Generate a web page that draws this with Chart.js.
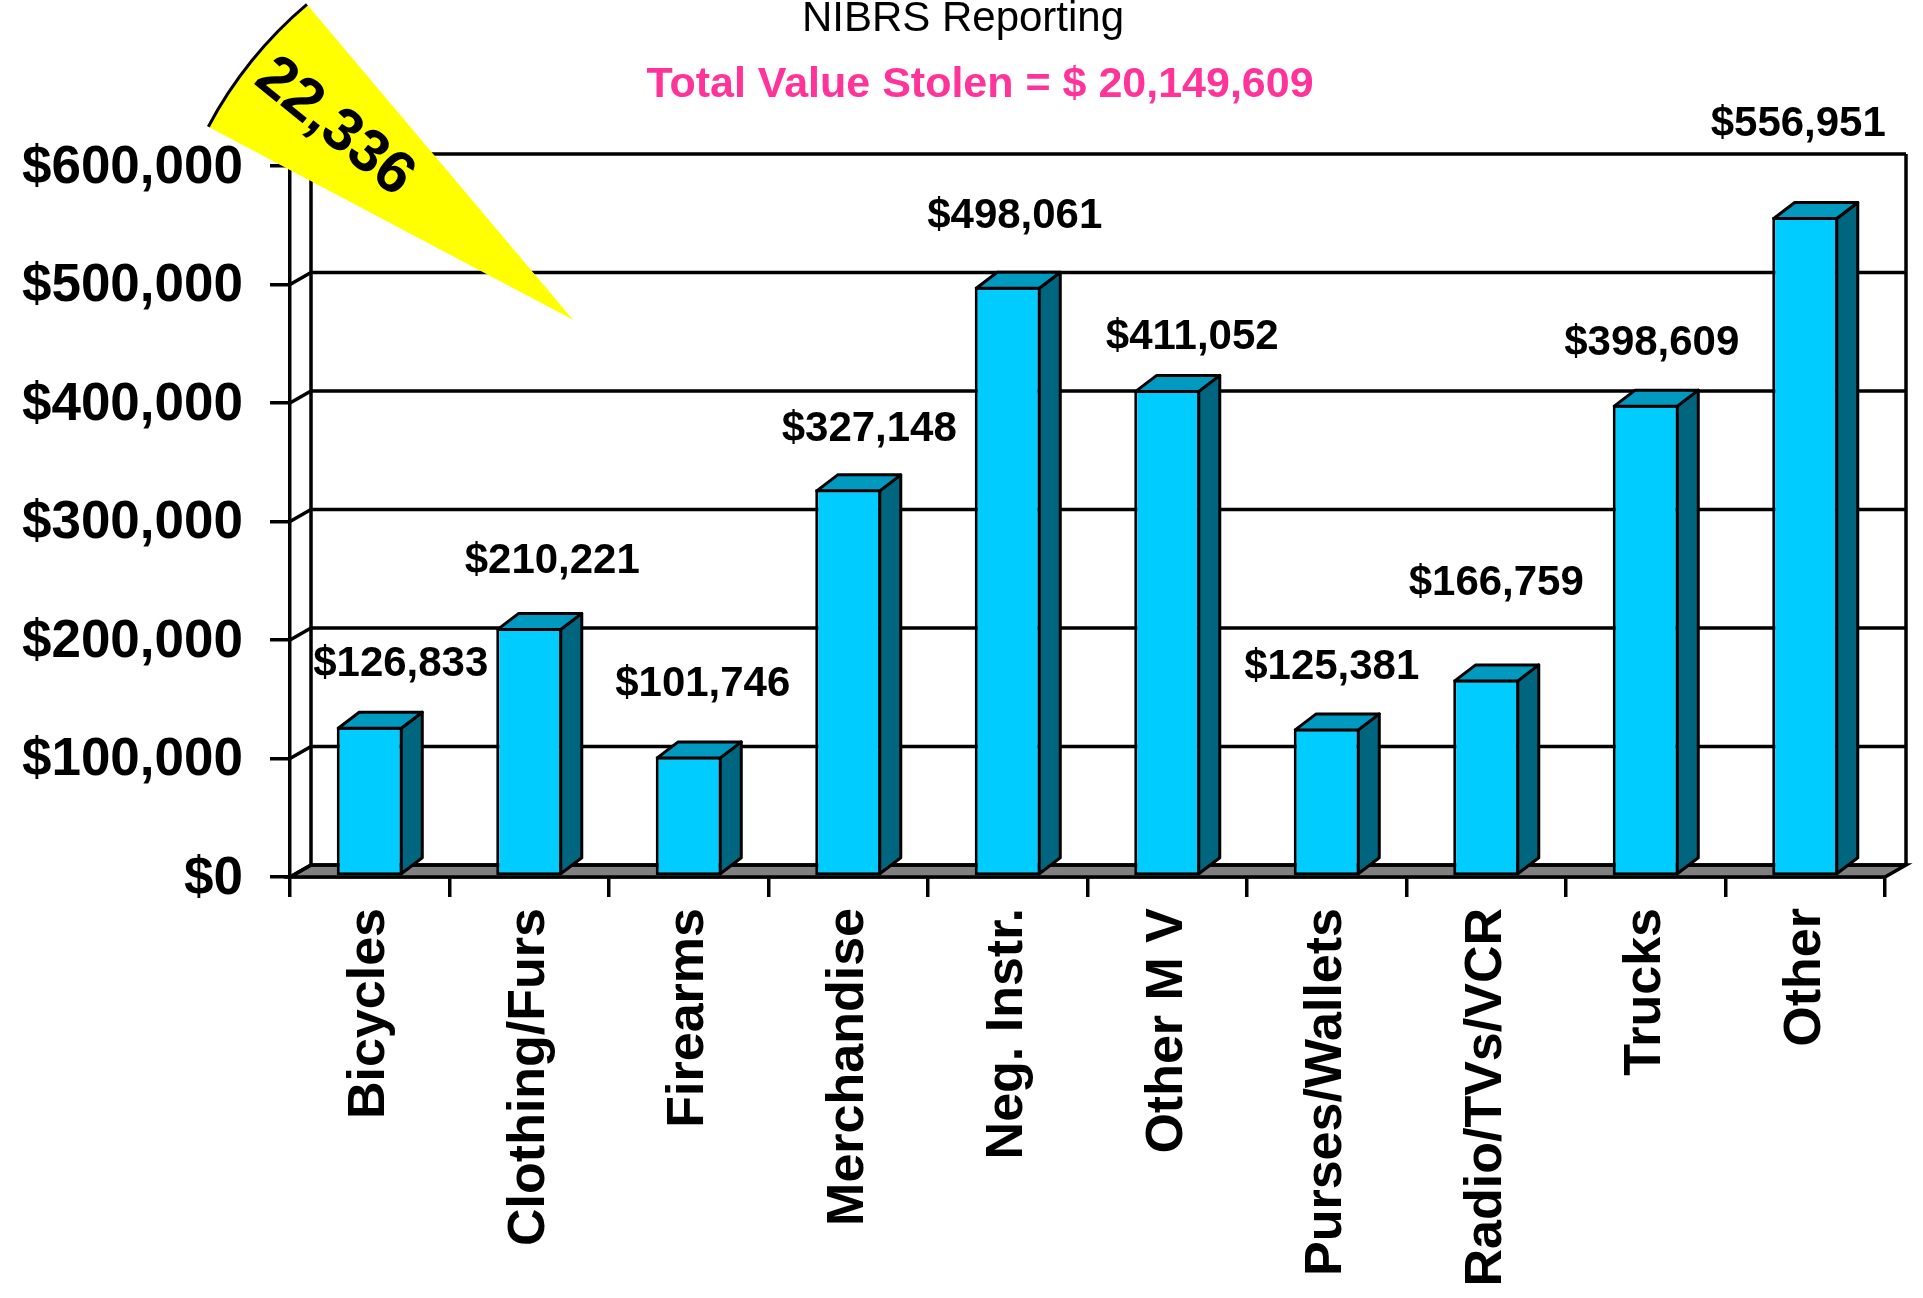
<!DOCTYPE html>
<html>
<head>
<meta charset="utf-8">
<title>NIBRS Reporting - Total Value Stolen</title>
<script src="https://cdn.jsdelivr.net/npm/chart.js@4.4.1/dist/chart.umd.min.js"></script>
<style>
  html, body { margin: 0; padding: 0; background: #fff; }
  #wrap { position: relative; width: 1923px; height: 1298px; overflow: hidden; }
  #valueChart { position: absolute; left: 0; top: 0; }
  #wedgeChart { position: absolute; left: 207px; top: 3px; }
</style>
</head>
<body>
<div id="wrap">
  <canvas id="valueChart" width="1923" height="1298"></canvas>
  <canvas id="wedgeChart" width="366" height="317"></canvas>
</div>
<script>
// data
const categories = ['Bicycles', 'Clothing/Furs', 'Firearms', 'Merchandise', 'Neg. Instr.', 'Other M V', 'Purses/Wallets', 'Radio/TVs/VCR', 'Trucks', 'Other'];
const stolenValues = [126833, 210221, 101746, 327148, 498061, 411052, 125381, 166759, 398609, 556951];
const yTicks = [0, 100000, 200000, 300000, 400000, 500000, 600000];
const wedgeValues = [22336];
const titleText = 'NIBRS Reporting';
const totalText = 'Total Value Stolen = $ 20,149,609';

const FONT = '"Liberation Sans", Arial, sans-serif';
Chart.defaults.font.family = FONT;
Chart.defaults.color = '#000';

// 3d look
const WALL_DX = 21, WALL_DY = -12;
const BAR_DX = 21, BAR_DY = -16;
const LINE = 3.5;
// label nudges (px from bar top centre), as PowerPoint placed them
const labelNudge = [[31, -62], [23, -66], [14, -72], [21, -60], [7, -70], [25, -52], [5, -61], [10, -96], [6, -61], [-7, -93]];

const money = v => '$' + v.toLocaleString('en-US');

const frame3d = {
    id: 'frame3d',
    beforeDatasetsDraw(chart) {
        const { ctx, chartArea: { left, right, top, bottom }, scales: { y } } = chart;
        ctx.save();
        ctx.lineWidth = LINE;
        ctx.strokeStyle = '#000';

        // floor
        ctx.beginPath();
        ctx.moveTo(left, bottom);
        ctx.lineTo(right, bottom);
        ctx.lineTo(right + WALL_DX, bottom + WALL_DY);
        ctx.lineTo(left + WALL_DX, bottom + WALL_DY);
        ctx.closePath();
        ctx.fillStyle = '#808080';
        ctx.fill();
        ctx.stroke();

        // back wall grid + left wall diagonals
        y.ticks.forEach(t => {
            const py = y.getPixelForValue(t.value);
            ctx.beginPath();
            ctx.moveTo(left, py);
            ctx.lineTo(left + WALL_DX, py + WALL_DY);
            ctx.lineTo(right + WALL_DX, py + WALL_DY);
            ctx.stroke();
        });

        // back wall edges
        ctx.beginPath();
        ctx.moveTo(left + WALL_DX, bottom + WALL_DY);
        ctx.lineTo(left + WALL_DX, top + WALL_DY);
        ctx.moveTo(right + WALL_DX, bottom + WALL_DY);
        ctx.lineTo(right + WALL_DX, top + WALL_DY);
        ctx.stroke();
        ctx.restore();
    }
};

const bars3d = {
    id: 'bars3d',
    afterDatasetsDraw(chart) {
        const { ctx } = chart;
        const meta = chart.getDatasetMeta(0);
        ctx.save();
        ctx.lineWidth = 3;
        ctx.strokeStyle = '#000';
        ctx.lineJoin = 'round';

        meta.data.forEach(bar => {
            const l = bar.x - bar.width / 2 + 1.5;
            const r = bar.x + bar.width / 2 - 1.5;
            const t = bar.y + 1.5;
            const b = bar.base - 1.5;

            // side face
            ctx.beginPath();
            ctx.moveTo(r, b);
            ctx.lineTo(r, t);
            ctx.lineTo(r + BAR_DX, t + BAR_DY);
            ctx.lineTo(r + BAR_DX, b + BAR_DY);
            ctx.closePath();
            ctx.fillStyle = '#006680';
            ctx.fill();
            ctx.stroke();

            // top face
            ctx.beginPath();
            ctx.moveTo(l, t);
            ctx.lineTo(r, t);
            ctx.lineTo(r + BAR_DX, t + BAR_DY);
            ctx.lineTo(l + BAR_DX, t + BAR_DY);
            ctx.closePath();
            ctx.fillStyle = '#0099C0';
            ctx.fill();
            ctx.stroke();
        });

        // value labels
        ctx.font = 'bold 42px ' + FONT;
        ctx.fillStyle = '#000';
        ctx.textAlign = 'center';
        ctx.textBaseline = 'middle';
        meta.data.forEach((bar, i) => {
            const [nx, ny] = labelNudge[i];
            ctx.fillText(money(stolenValues[i]), bar.x + nx, bar.y + ny);
        });
        ctx.restore();
    }
};

const titles = {
    id: 'titles',
    afterDraw(chart) {
        const { ctx } = chart;
        ctx.save();
        ctx.textAlign = 'center';
        ctx.textBaseline = 'alphabetic';
        ctx.fillStyle = '#000';
        ctx.font = '42px ' + FONT;
        ctx.fillText(titleText, 963, 31);
        ctx.fillStyle = '#FF3399';
        ctx.font = 'bold 43px ' + FONT;
        ctx.fillText(totalText, 980, 97);
        ctx.restore();
    }
};

new Chart(document.getElementById('valueChart'), {
    type: 'bar',
    data: {
        labels: categories,
        datasets: [{
            data: stolenValues,
            backgroundColor: '#00CCFF',
            borderColor: '#000',
            borderWidth: 3,
            borderSkipped: false,
            barPercentage: 0.414,
            categoryPercentage: 1
        }]
    },
    options: {
        responsive: false,
        animation: false,
        events: [],
        layout: { padding: { top: 166, right: 38, left: 0, bottom: 0 } },
        plugins: {
            legend: { display: false },
            tooltip: { enabled: false }
        },
        scales: {
            x: {
                grid: { offset: true, drawOnChartArea: false, tickLength: 20, color: '#000', lineWidth: LINE },
                border: { display: true, color: '#000', width: LINE },
                ticks: {
                    minRotation: 90, maxRotation: 90, autoSkip: false,
                    padding: 11, labelOffset: 0,
                    font: { size: 52, weight: 'bold' }, color: '#000'
                },
                afterFit: s => { s.height = 421; }
            },
            y: {
                min: 0,
                max: 600000,
                afterBuildTicks: s => { s.ticks = yTicks.map(v => ({ value: v })); },
                grid: { drawOnChartArea: false, tickLength: 20, color: '#000', lineWidth: LINE },
                border: { display: true, color: '#000', width: LINE },
                ticks: {
                    padding: 27, labelOffset: 2,
                    callback: v => money(v),
                    font: { size: 53, weight: 'bold' }, color: '#000'
                },
                afterFit: s => { s.width = 290; }
            }
        }
    },
    plugins: [frame3d, bars3d, titles]
});

// the yellow slice in the top left corner
const wedgeLabel = {
    id: 'wedgeLabel',
    afterDatasetsDraw(chart) {
        const { ctx } = chart;
        const arc = chart.getDatasetMeta(1).data[0];
        const outer = chart.getDatasetMeta(0).data[0].outerRadius;
        const mid = (arc.startAngle + arc.endAngle) / 2;
        const r = outer * 0.74;
        ctx.save();
        ctx.translate(arc.x + Math.cos(mid) * r, arc.y + Math.sin(mid) * r);
        ctx.rotate(mid + Math.PI);
        ctx.font = 'bold 60px ' + FONT;
        ctx.fillStyle = '#000';
        ctx.textAlign = 'center';
        ctx.textBaseline = 'middle';
        ctx.fillText(wedgeValues[0].toLocaleString('en-US'), 0, 0);
        ctx.restore();
    }
};

new Chart(document.getElementById('wedgeChart'), {
    type: 'pie',
    data: {
        datasets: [
            { data: wedgeValues, backgroundColor: '#000', borderWidth: 0, hoverBorderWidth: 0, offset: 0, hoverOffset: 0, weight: 3 },
            { data: wedgeValues, backgroundColor: '#FFFF00', borderWidth: 0, hoverBorderWidth: 0, offset: 0, hoverOffset: 0, weight: 411 }
        ]
    },
    options: {
        responsive: false,
        animation: false,
        events: [],
        rotation: 297.9,
        circumference: 21.95,
        layout: { padding: 0 },
        plugins: {
            legend: { display: false },
            tooltip: { enabled: false }
        }
    },
    plugins: [wedgeLabel]
});
</script>
</body>
</html>
